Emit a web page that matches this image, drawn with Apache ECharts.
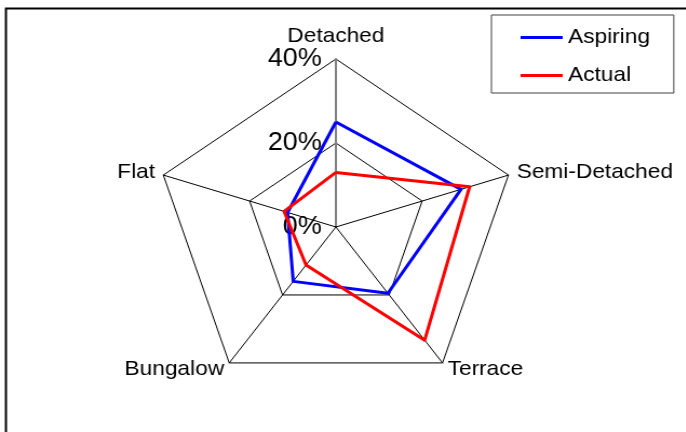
<!DOCTYPE html>
<html>
<head>
<meta charset="utf-8">
<script src="https://cdn.jsdelivr.net/npm/echarts@6/dist/echarts.min.js"></script>
<style>
  html, body { margin: 0; padding: 0; background: #fff; overflow: hidden; }
  /* the original picture is a little wider than tall, so stretch it the same way */
  #chart { width: 635px; height: 432px; transform: scaleX(1.08); transform-origin: 0 0; }
</style>
</head>
<body>
<div id="chart"></div>
<script>
// house types, listed counter-clockwise from the top
const categories = ['Detached', 'Flat', 'Bungalow', 'Terrace', 'Semi-Detached'];
const aspiring = [25, 11.2, 16, 19.5, 29];
const actual = [13, 12, 11.2, 33.3, 31];
const maxValue = 40;

const chart = echarts.init(document.getElementById('chart'));

const option = {
  backgroundColor: '#fff',
  animation: false,
  textStyle: { fontFamily: 'Liberation Sans, Arial, sans-serif' },
  graphic: [
    {
      type: 'rect',
      left: 3, top: 6,
      shape: { width: 720, height: 460 },
      style: { fill: 'none', stroke: '#000', lineWidth: 2 },
      silent: true
    }
  ],
  legend: {
    orient: 'vertical',
    left: 455, top: 15,
    padding: [12, 22, 7, 27],
    itemGap: 17,
    itemWidth: 39,
    itemHeight: 3,
    icon: 'rect',
    borderColor: '#404040',
    borderWidth: 1,
    textStyle: { fontSize: 21, color: '#000' },
    data: ['Aspiring', 'Actual']
  },
  radar: {
    center: [311, 227],
    radius: 168,
    shape: 'polygon',
    splitNumber: 2,
    startAngle: 90,
    axisName: { color: '#000', fontSize: 21 },
    nameGap: 8,
    splitArea: { show: false },
    splitLine: { lineStyle: { color: '#000', width: 1 } },
    axisLine: { lineStyle: { color: '#000', width: 1 } },
    axisLabel: {
      show: true,
      color: '#000',
      fontSize: 25,
      margin: 13,
      formatter: '{value}%'
    },
    indicator: categories.map((name, i) => i === 0
      ? { name, min: 0, max: maxValue, axisLine: { lineStyle: { color: '#808080', width: 2 } } }
      : { name, min: 0, max: maxValue, axisLabel: { show: false } })
  },
  series: [
    {
      type: 'radar',
      symbol: 'none',
      data: [
        { name: 'Aspiring', value: aspiring, lineStyle: { color: '#0000ff', width: 3 }, itemStyle: { color: '#0000ff' } },
        { name: 'Actual', value: actual, lineStyle: { color: '#ff0000', width: 3 }, itemStyle: { color: '#ff0000' } }
      ]
    }
  ]
};

chart.setOption(option);
</script>
</body>
</html>
